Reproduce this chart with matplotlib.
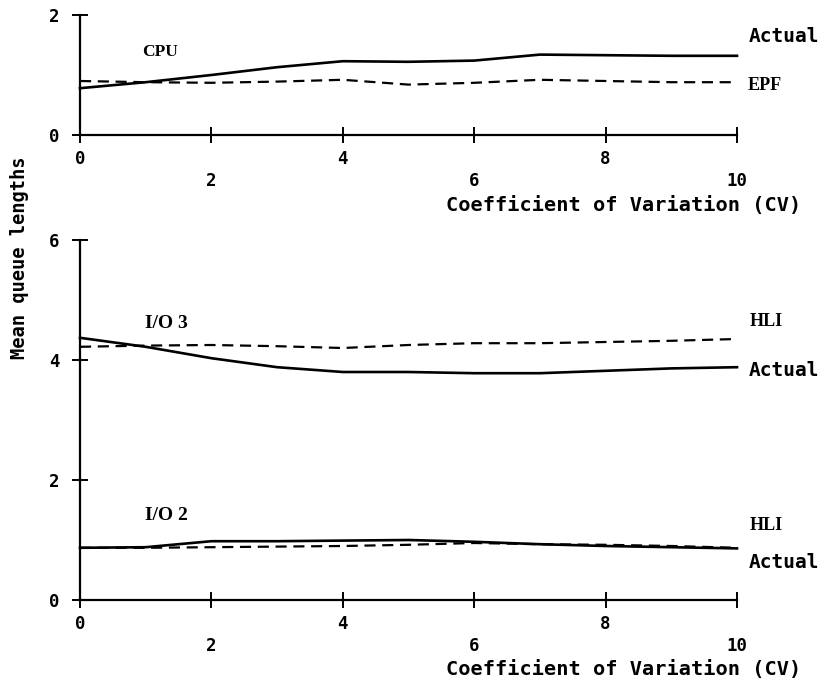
import matplotlib
matplotlib.use("Agg")
import matplotlib.pyplot as plt
from matplotlib.transforms import ScaledTranslation

# ---- data ----
cv = [0, 1, 2, 3, 4, 5, 6, 7, 8, 9, 10]
cpu_actual = [0.78, 0.88, 1.00, 1.13, 1.23, 1.22, 1.24, 1.34, 1.33, 1.32, 1.32]
cpu_epf = [0.90, 0.88, 0.87, 0.89, 0.92, 0.84, 0.87, 0.92, 0.90, 0.88, 0.88]
io3_actual = [4.37, 4.22, 4.03, 3.88, 3.80, 3.80, 3.78, 3.78, 3.82, 3.86, 3.88]
io3_hli = [4.22, 4.24, 4.25, 4.23, 4.20, 4.25, 4.28, 4.28, 4.30, 4.32, 4.35]
io2_actual = [0.87, 0.88, 0.98, 0.98, 0.99, 1.00, 0.97, 0.93, 0.90, 0.88, 0.86]
io2_hli = [0.87, 0.87, 0.88, 0.89, 0.90, 0.92, 0.95, 0.93, 0.92, 0.90, 0.87]

xticks = [0, 2, 4, 6, 8, 10]
xticklabels = ["0", "2", "4", "6", "8", "10"]
top_yticks = [0, 2]
bot_yticks = [0, 2, 4, 6]
xlabel = "Coefficient of Variation (CV)"
ylabel = "Mean queue lengths"

MONO = {"family": "DejaVu Sans Mono", "weight": "bold"}
SERIF = {"family": "Liberation Serif", "weight": "bold"}

fig = plt.figure(figsize=(8.25, 6.85), dpi=100)
ax1 = fig.add_axes([80 / 825, 1 - 135 / 685, 657 / 825, 120 / 685])
ax2 = fig.add_axes([80 / 825, 1 - 600 / 685, 657 / 825, 360 / 685])


def style(ax, yticks, ymax):
    ax.set_xlim(0, 10)
    ax.set_ylim(0, ymax)
    for s in ("top", "right"):
        ax.spines[s].set_visible(False)
    for s in ("left", "bottom"):
        ax.spines[s].set_linewidth(1.6)
        ax.spines[s].set_clip_on(False)
    ax.set_xticks(xticks)
    ax.set_xticklabels(xticklabels, fontdict=MONO, fontsize=12.5)
    ax.set_yticks(yticks)
    ax.set_yticklabels([str(v) for v in yticks], fontdict=MONO, fontsize=12.5)
    ax.tick_params(axis="both", direction="inout", length=11, width=1.4, pad=5)
    ax.tick_params(axis="y", pad=9)
    ax.patch.set_visible(False)
    off = ScaledTranslation(0, -0.22, fig.dpi_scale_trans)
    for i, lab in enumerate(ax.get_xticklabels()):
        if i % 2 == 1:
            lab.set_transform(lab.get_transform() + off)


style(ax1, top_yticks, 2)
style(ax2, bot_yticks, 6)

# top panel
ax1.plot(cv, cpu_actual, color="black", lw=1.9, clip_on=False)
ax1.plot(cv, cpu_epf, color="black", lw=1.6, ls=(0, (5, 3)), clip_on=False)

# bottom panel
ax2.plot(cv, io3_actual, color="black", lw=1.9, clip_on=False)
ax2.plot(cv, io3_hli, color="black", lw=1.6, ls=(0, (5, 3)), clip_on=False)
ax2.plot(cv, io2_actual, color="black", lw=1.9, clip_on=False)
ax2.plot(cv, io2_hli, color="black", lw=1.6, ls=(0, (5, 3)), clip_on=False)

# x labels
fig.text(801 / 825, 1 - 205 / 685, xlabel, ha="right", va="center", fontsize=14.6, **MONO)
fig.text(801 / 825, 1 - 670 / 685, xlabel, ha="right", va="center", fontsize=14.6, **MONO)
# y label
fig.text(20 / 825, 1 - 258 / 685, ylabel, ha="center", va="center", rotation=90,
         fontsize=13.5, **MONO)


# curve labels
def flab(x, y, s, font, size):
    fig.text(x / 825, 1 - y / 685, s, ha="left", va="center", fontsize=size, **font)


flab(142, 52, "CPU", SERIF, 12.5)
flab(749, 36, "Actual", MONO, 14)
flab(748, 85, "EPF", SERIF, 13)
flab(145, 323, "I/O 3", SERIF, 14)
flab(750, 322, "HLI", SERIF, 13)
flab(749, 370, "Actual", MONO, 14)
flab(145, 515, "I/O 2", SERIF, 14)
flab(750, 526, "HLI", SERIF, 13)
flab(749, 563, "Actual", MONO, 14)

fig.savefig("out.png", dpi=100)
